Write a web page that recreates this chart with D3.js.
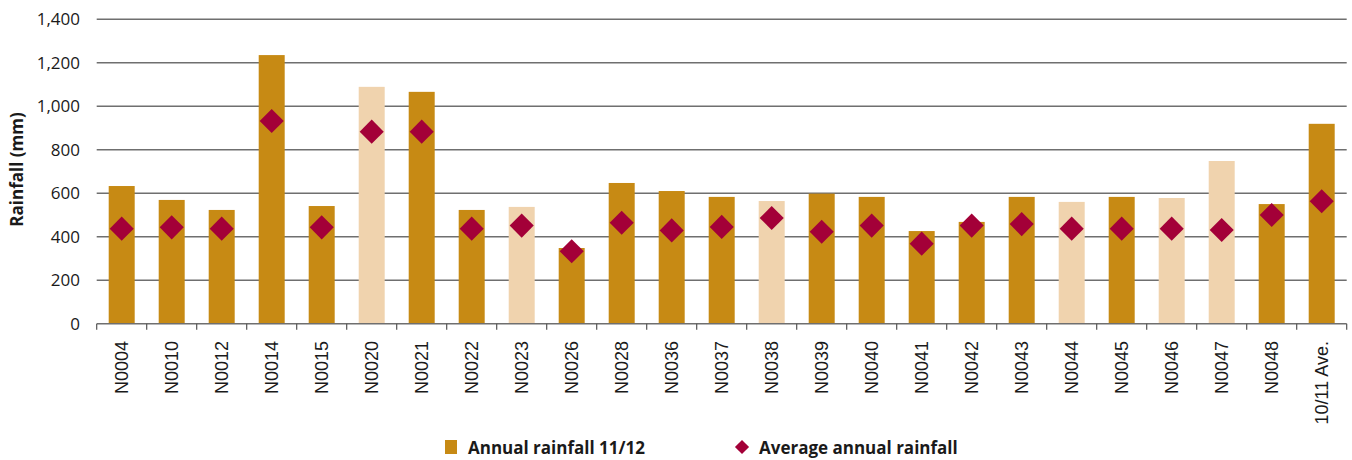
<!DOCTYPE html>
<html>
<head>
<meta charset="utf-8">
<script src="https://cdn.jsdelivr.net/npm/d3@7"></script>
<style>
  html, body { margin: 0; padding: 0; background: #fff; }
  svg { display: block; }
</style>
</head>
<body>
<svg id="chart" width="1352" height="460"></svg>
<script>
// Stations, plus the previous-year average in the last column
const categories = ["N0004","N0010","N0012","N0014","N0015","N0020","N0021","N0022","N0023","N0026",
  "N0028","N0036","N0037","N0038","N0039","N0040","N0041","N0042","N0043","N0044",
  "N0045","N0046","N0047","N0048","10/11 Ave."];
// Annual rainfall 11/12 (mm)
const annualRainfall = [633,569,523,1235,541,1089,1066,523,537,348,
  647,610,583,564,598,583,426,468,583,560,
  583,578,748,550,919];
// Long-term average annual rainfall (mm)
const averageRainfall = [437,443,437,932,443,883,883,437,451,333,
  464,429,445,486,423,451,368,451,458,437,
  437,437,431,500,563];
// Stations with an incomplete record, drawn in the pale tone
const incompleteStations = ["N0020","N0023","N0038","N0044","N0046","N0047"];
const yTicks = [0,200,400,600,800,1000,1200,1400];
const yTitle = "Rainfall (mm)";
const legendLabels = ["Annual rainfall 11/12", "Average annual rainfall"];

const colors = { bar: "#C78A14", barPale: "#F0D3AE", diamond: "#A30038", grid: "#6f6f6f", text: "#1a1a1a" };

const svg = d3.select("#chart");
const plotLeft = 96.7, plotRight = 1346.7, plotTop = 19.2, plotBottom = 323.7;

const x = d3.scaleBand().domain(categories).range([plotLeft, plotRight])
  .paddingInner(0.48).paddingOuter(0.24);
const y = d3.scaleLinear().domain([0, 1400]).range([plotBottom, plotTop]);

const rows = categories.map((c, i) => ({
  cat: c, annual: annualRainfall[i], avg: averageRainfall[i],
  pale: incompleteStations.includes(c)
}));

// Horizontal gridlines
svg.append("g").selectAll("line").data(yTicks.filter(t => t > 0)).join("line")
  .attr("x1", plotLeft).attr("x2", plotRight)
  .attr("y1", d => y(d)).attr("y2", d => y(d))
  .attr("stroke", colors.grid).attr("stroke-width", 1.4);

// Y tick labels
svg.append("g").selectAll("text").data(yTicks).join("text")
  .attr("x", 80).attr("y", d => y(d)).attr("dy", "0.36em")
  .attr("text-anchor", "end")
  .attr("font-family", "'Open Sans', 'Noto Sans', sans-serif")
  .attr("font-size", 17).attr("fill", colors.text)
  .text(d => d3.format(",")(d));

// Y axis title
svg.append("text")
  .attr("transform", `translate(23,${(plotTop + plotBottom) / 2 - 2}) rotate(-90)`)
  .attr("text-anchor", "middle")
  .attr("font-family", "'Open Sans', 'Noto Sans', sans-serif")
  .attr("font-weight", "bold").attr("font-size", 17).attr("fill", colors.text)
  .text(yTitle);

// Bars
svg.append("g").selectAll("rect").data(rows).join("rect")
  .attr("x", d => x(d.cat)).attr("width", x.bandwidth())
  .attr("y", d => y(d.annual)).attr("height", d => y(0) - y(d.annual))
  .attr("fill", d => d.pale ? colors.barPale : colors.bar);

// X axis line and band boundary ticks
const step = x.step();
const boundaries = d3.range(categories.length + 1).map(i => plotLeft + i * step);
svg.append("line").attr("x1", plotLeft).attr("x2", plotRight)
  .attr("y1", plotBottom).attr("y2", plotBottom)
  .attr("stroke", colors.grid).attr("stroke-width", 1.6);
svg.append("g").selectAll("line").data(boundaries).join("line")
  .attr("x1", d => d).attr("x2", d => d)
  .attr("y1", plotBottom).attr("y2", plotBottom + 6)
  .attr("stroke", "#555").attr("stroke-width", 1.2);

// Category labels, rotated
svg.append("g").selectAll("text").data(categories).join("text")
  .attr("transform", d => `translate(${x(d) + x.bandwidth() / 2 + 6},341) rotate(-90)`)
  .attr("text-anchor", "end")
  .attr("font-family", "'Liberation Sans', Arial, sans-serif")
  .attr("font-size", 18).attr("fill", colors.text)
  .text(d => d);

// Average rainfall diamonds
const diamond = d3.symbol().type(d3.symbolSquare).size(290);
svg.append("g").selectAll("path").data(rows).join("path")
  .attr("d", diamond)
  .attr("transform", d => `translate(${x(d.cat) + x.bandwidth() / 2},${y(d.avg)}) rotate(45)`)
  .attr("fill", colors.diamond);

// Legend
const legend = svg.append("g").attr("font-family", "'Open Sans', 'Noto Sans', sans-serif")
  .attr("font-weight", "bold").attr("font-size", 17).attr("fill", colors.text);
legend.append("rect").attr("x", 445).attr("y", 440).attr("width", 12).attr("height", 14).attr("fill", colors.bar);
legend.append("text").attr("x", 468).attr("y", 454).text(legendLabels[0]);
legend.append("path").attr("d", d3.symbol().type(d3.symbolSquare).size(100))
  .attr("transform", "translate(742,447) rotate(45)").attr("fill", colors.diamond);
legend.append("text").attr("x", 759).attr("y", 454).text(legendLabels[1]);
</script>
</body>
</html>
